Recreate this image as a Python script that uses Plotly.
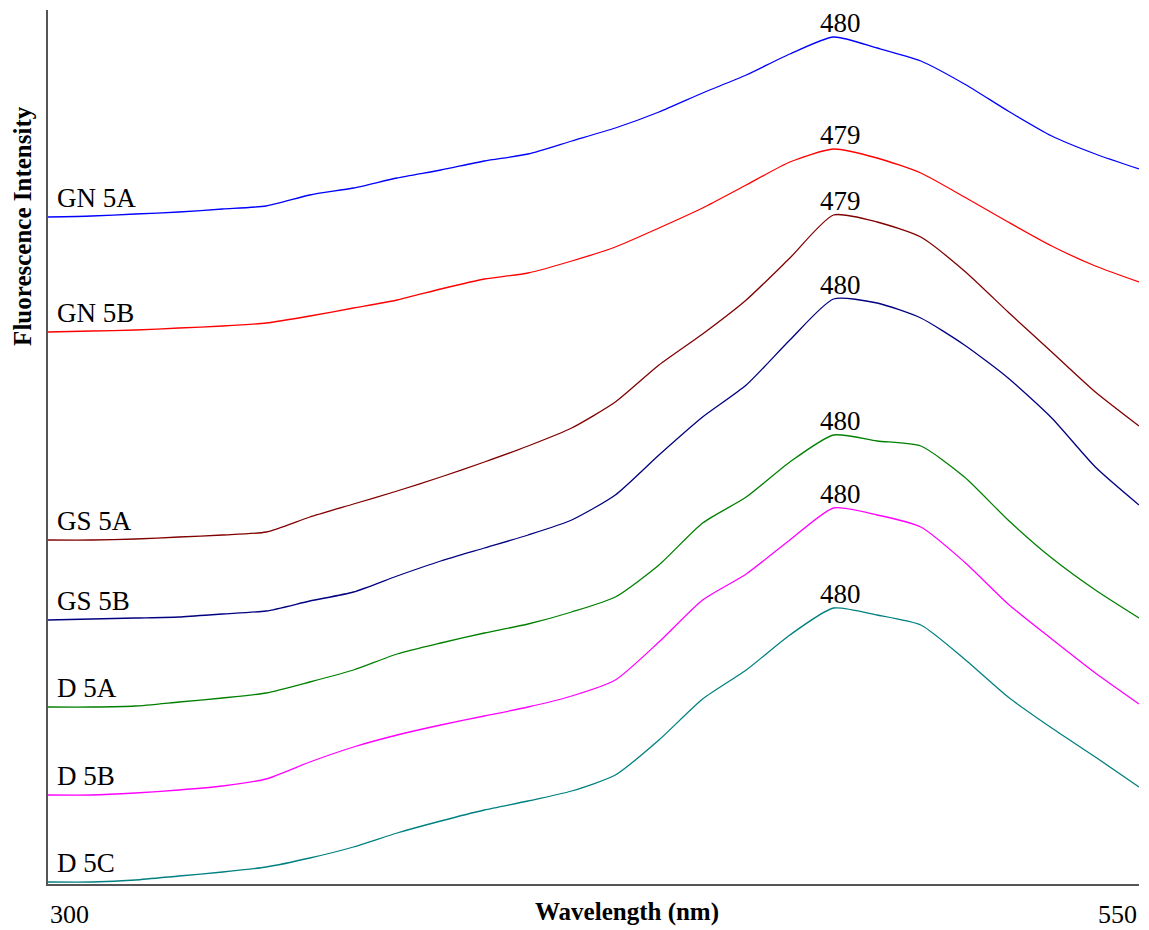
import plotly.graph_objects as go

# wavelength grid (nm)
wavelength = [300, 310, 320, 330, 340, 350, 360, 370, 380, 390, 400, 410, 420,
              430, 440, 450, 460, 470, 480, 490, 500, 510, 520, 530, 540, 550]

# fluorescence intensity (arbitrary units, curves are offset in the original)
gn5a = [667, 668, 670, 672, 675, 678, 689, 696, 706, 714, 723, 730, 743,
        756, 772, 791, 809, 830, 847, 836, 823, 800, 773, 748, 730, 715]
gn5b = [552, 553, 554, 556, 558, 561, 568, 576, 584, 595, 605, 611, 623,
        637, 656, 676, 699, 722, 735, 726, 711, 687, 662, 638, 618, 602]
gs5a = [344, 344, 345, 347, 349, 352, 367, 380, 393, 407, 422, 438, 456,
        482, 519, 550, 584, 626, 669, 662, 647, 613, 572, 532, 492, 458]
gs5b = [264, 265, 266, 267, 270, 273, 283, 292, 308, 323, 336, 349, 364,
        389, 429, 467, 499, 544, 585, 581, 566, 539, 506, 466, 417, 379]
d5a = [177, 177, 178, 182, 186, 191, 202, 214, 230, 241, 251, 260, 272,
       287, 319, 361, 387, 422, 449, 443, 438, 407, 364, 326, 294, 266]
d5b = [89, 89, 91, 94, 98, 105, 122, 137, 149, 159, 168, 177, 188,
       204, 242, 284, 310, 344, 376, 369, 357, 322, 280, 245, 211, 180]
d5c = [2, 2, 4, 8, 12, 17, 26, 37, 51, 63, 74, 83, 93,
       109, 144, 185, 214, 249, 276, 269, 259, 225, 187, 156, 127, 97]

names = ["GN 5A", "GN 5B", "GS 5A", "GS 5B", "D 5A", "D 5B", "D 5C"]
series = [gn5a, gn5b, gs5a, gs5b, d5a, d5b, d5c]
peak_labels = ["480", "479", "479", "480", "480", "480", "480"]
colors = ["#0000FF", "#FF0000", "#800000", "#000080", "#008000", "#FF00FF", "#008080"]
tick_labels = ["300", "550"]

FONT = "Liberation Serif, Times New Roman, serif"
FS = 27

fig = go.Figure()
annots = []
for name, ys, col, pk in zip(names, series, colors, peak_labels):
    fig.add_trace(go.Scatter(x=wavelength, y=ys, mode="lines", name=name,
                             line=dict(color=col, width=1.3, shape="spline", smoothing=0.6)))
    # curve name just above its start
    annots.append(dict(x=wavelength[0], y=ys[0], text=name, showarrow=False,
                       xanchor="left", yanchor="bottom", xshift=7, yshift=2,
                       font=dict(family=FONT, size=FS, color="black")))
    # peak wavelength label
    i = ys.index(max(ys))
    annots.append(dict(x=wavelength[i], y=ys[i], text=pk, showarrow=False,
                       xanchor="center", yanchor="bottom", xshift=7, yshift=-3,
                       font=dict(family=FONT, size=FS, color="black")))

# end labels of x axis
annots.append(dict(x=0, y=0, xref="paper", yref="paper", text=tick_labels[0], showarrow=False,
                   xanchor="left", yanchor="top", yshift=-14,
                   font=dict(family=FONT, size=26, color="black")))
annots.append(dict(x=1, y=0, xref="paper", yref="paper", text=tick_labels[1], showarrow=False,
                   xanchor="right", yanchor="top", yshift=-14,
                   font=dict(family=FONT, size=26, color="black")))
# axis titles
annots.append(dict(x=0.531, y=0, xref="paper", yref="paper", text="<b>Wavelength (nm)</b>",
                   showarrow=False, xanchor="center", yanchor="top", yshift=-12,
                   font=dict(family=FONT, size=25, color="black")))
annots.append(dict(x=0, y=0.753, xref="paper", yref="paper", text="<b>Fluorescence Intensity</b>",
                   showarrow=False, xanchor="center", yanchor="middle", xshift=-25, textangle=-90,
                   font=dict(family=FONT, size=25, color="black")))

# page body has an 8px margin, so the figure is shrunk and margins moved to compensate
fig.update_layout(
    width=1141, height=922,
    margin=dict(l=40, r=10, t=2, b=46),
    paper_bgcolor="white", plot_bgcolor="white",
    showlegend=False,
    annotations=annots,
    xaxis=dict(range=[300, 550], showgrid=False, zeroline=False, showticklabels=False,
               ticks="", showline=True, linecolor="#555555", linewidth=2),
    yaxis=dict(range=[0, 874], showgrid=False, zeroline=False, showticklabels=False,
               ticks="", showline=True, linecolor="#555555", linewidth=2),
)

fig.write_html("out.html")
